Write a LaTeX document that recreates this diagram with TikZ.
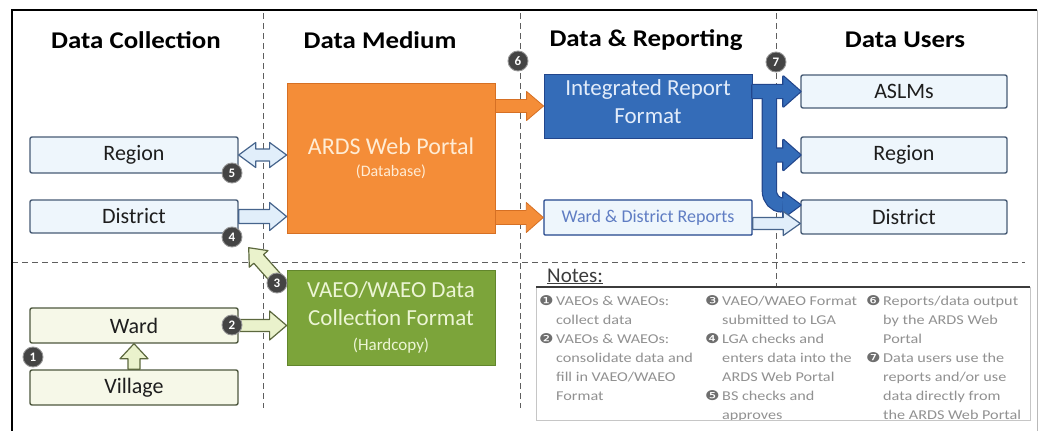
\documentclass[tikz,border=0pt]{standalone}
\usepackage{fontspec}
\setmainfont{Carlito}
\newfontfamily\djv{DejaVu Sans}
\usetikzlibrary{calc}

\definecolor{lbfill}{RGB}{238,246,252}
\definecolor{lbedge}{RGB}{72,92,118}
\definecolor{lgfill}{RGB}{246,248,232}
\definecolor{lgedge}{RGB}{78,88,62}
\definecolor{orangeA}{RGB}{244,141,56}
\definecolor{orangeE}{RGB}{214,112,36}
\definecolor{blueA}{RGB}{52,108,184}
\definecolor{blueE}{RGB}{34,70,140}
\definecolor{greenA}{RGB}{124,164,58}
\definecolor{greenE}{RGB}{98,134,44}
\definecolor{labA}{RGB}{225,238,250}
\definecolor{labE}{RGB}{70,100,140}
\definecolor{lagA}{RGB}{234,242,204}
\definecolor{lagE}{RGB}{92,104,62}
\definecolor{divc}{RGB}{95,95,95}
\definecolor{notetext}{RGB}{145,145,145}
\definecolor{notenum}{RGB}{110,110,110}
\definecolor{notehead}{RGB}{60,60,60}
\definecolor{labeltext}{RGB}{30,30,30}
\definecolor{wdrtext}{RGB}{95,125,195}
\definecolor{ardstext}{RGB}{255,236,212}
\definecolor{vaeotext}{RGB}{236,245,212}
\definecolor{integtext}{RGB}{226,236,250}
\definecolor{numfill}{RGB}{68,68,68}
\definecolor{numedge}{RGB}{150,150,150}

% block arrow: style, from, to, shaft half-width, head half-width, head length
\newcommand\myarrow[6]{%
  \coordinate (mA) at (#2);
  \coordinate (mB) at (#3);
  \coordinate (mC) at ($(mB)!#6!(mA)$);
  \draw[#1] ($(mA)!#4!90:(mB)$) -- ($(mC)!#4!90:(mB)$) -- ($(mC)!#5!90:(mB)$) -- (mB)
    -- ($(mC)!#5!-90:(mB)$) -- ($(mC)!#4!-90:(mB)$) -- ($(mA)!#4!-90:(mB)$) -- cycle;}
% double-headed block arrow
\newcommand\mydarrow[6]{%
  \coordinate (mA) at (#2);
  \coordinate (mB) at (#3);
  \coordinate (mC) at ($(mB)!#6!(mA)$);
  \coordinate (mD) at ($(mA)!#6!(mB)$);
  \draw[#1] (mA) -- ($(mD)!#5!90:(mB)$) -- ($(mD)!#4!90:(mB)$) -- ($(mC)!#4!90:(mB)$)
    -- ($(mC)!#5!90:(mB)$) -- (mB) -- ($(mC)!#5!-90:(mB)$) -- ($(mC)!#4!-90:(mB)$)
    -- ($(mD)!#4!-90:(mB)$) -- ($(mD)!#5!-90:(mB)$) -- cycle;}

\newcommand\hsx[1]{\scalebox{1.12}[1]{#1}}
\newcommand\nb[1]{\makebox[1.05em][l]{{\djv\color{notenum}#1}}}
\newcommand\nbs{\hspace*{1.05em}}

\begin{document}
\begin{tikzpicture}[x=1pt,y=-1pt,
  head/.style={font=\fontsize{24}{28}\selectfont\bfseries, inner sep=0pt},
  lb/.style={draw=lbedge, fill=lbfill, line width=1.4pt, rounded corners=2pt,
    minimum width=208pt, inner sep=0pt, text=labeltext, font=\fontsize{22}{24}\selectfont},
  lg/.style={draw=lgedge, fill=lgfill, line width=1.4pt, rounded corners=2pt,
    minimum width=208pt, minimum height=35pt, inner sep=0pt, text=labeltext, font=\fontsize{22}{24}\selectfont},
  num/.style={circle, fill=numfill, draw=numedge, line width=0.9pt,
    minimum size=20pt, inner sep=0pt, text=white, font=\fontsize{13}{13}\selectfont\bfseries},
  divider/.style={draw=divc, line width=0.9pt, dash pattern=on 6pt off 4pt},
  labarrow/.style={fill=labA, draw=labE, line width=1.2pt, line join=round},
  lagarrow/.style={fill=lagA, draw=lagE, line width=1.2pt, line join=round},
  orarrow/.style={fill=orangeA, draw=orangeE, line width=0.8pt, line join=round},
  notecol/.style={anchor=north west, inner sep=0pt, text=notetext,
    font=\fontsize{13.5}{19}\selectfont}
]
\useasboundingbox (0,0) rectangle (1039,431);
\fill[white] (0,0) rectangle (1039,431);

% dividers
\draw[divider] (263,13) -- (263,408);
\draw[divider] (520,13) -- (520,408);
\draw[divider] (776,13) -- (776,287);
\draw[divider] (12,262) -- (1025,262);

% frame
\draw[line width=2.5pt] (12,431) -- (12,10) -- (1037,10);
\draw[gray!55, line width=0.8pt] (1037,10) -- (1037,431);

% headings
\node[head] (h1) at (136,40) {\hsx{Data Collection}};
\node[head] (h2) at (380,40) {\hsx{Data Medium}};
\node[head] (h3) at (646,40) {\hsx{Data \& Reporting}};
\node[head] (h4) at (905,40) {\hsx{Data Users}};

% data collection boxes
\node[lb, minimum height=36pt] (regL) at (134,155) {Region};
\node[lb, minimum height=33pt] (disL) at (134,216.5) {District};
\node[lg] (ward) at (134,325.5) {Ward};
\node[lg] (village) at (134,387.5) {Village};

% data medium boxes
\node[draw=orangeE, fill=orangeA, line width=0.8pt, minimum width=208pt, minimum height=150pt,
  inner sep=0pt, align=center, text=ardstext, font=\fontsize{24}{22}\selectfont] (ards) at (391,158)
  {ARDS Web Portal\\{\fontsize{16}{18}\selectfont (Database)}};
\node[draw=greenE, fill=greenA, line width=0.8pt, minimum width=208pt, minimum height=95pt,
  inner sep=0pt, align=center, text=vaeotext, font=\fontsize{23}{28}\selectfont] (vaeo) at (391,317.5)
  {VAEO/WAEO Data\\Collection Format\\[-3pt]{\fontsize{17}{22}\selectfont (Hardcopy)}};

% data & reporting boxes
\node[draw=blueE, fill=blueA, line width=0.8pt, minimum width=208pt, minimum height=64pt,
  inner sep=0pt, align=center, text=integtext, text depth=9pt,
  font=\fontsize{23}{28}\selectfont] (integ) at (648,106) {Integrated Report\\Format};
\node[draw=blueE, fill=lbfill, line width=1.4pt, rounded corners=1pt, minimum width=208pt,
  minimum height=35pt, inner sep=0pt, text=wdrtext, font=\fontsize{18}{20}\selectfont]
  (wdr) at (648,217.5) {Ward \& District Reports};

% data users boxes
\node[lb, minimum width=206pt, minimum height=33pt] (aslm) at (904,91.5) {ASLMs};
\node[lb, minimum width=206pt, minimum height=36pt] (regR) at (904,155) {Region};
\node[lb, minimum width=206pt, minimum height=34pt] (disR) at (904,217) {District};

% arrows: collection <-> medium
\mydarrow{labarrow}{regL.east}{ards.west |- regL.east}{6pt}{12.5pt}{17pt}
\myarrow{labarrow}{disL.east}{ards.west |- disL.east}{7pt}{14pt}{17pt}
\myarrow{lagarrow}{ward.east}{vaeo.west |- ward.east}{6pt}{14.5pt}{17pt}
\myarrow{lagarrow}{village.north}{ward.south}{6pt}{14pt}{15pt}
\coordinate (vtail) at ($(vaeo.north west)+(-6,14)$);
\coordinate (vtip) at ($(disL.south east)+(10,14)$);
\myarrow{lagarrow}{vtail}{vtip}{6.5pt}{12.5pt}{15pt}

% medium -> reporting
\myarrow{orarrow}{ards.east |- integ.west}{integ.west}{6.5pt}{14.5pt}{17pt}
\myarrow{orarrow}{ards.east |- wdr.west}{wdr.west}{7pt}{15pt}{17pt}

% reporting -> users (blue branching arrow, union outline)
\coordinate (b1) at (integ.east |- aslm.west);
\coordinate (b2) at ($(b1)+(17,0)$);
\coordinate (bd) at ($(disR.west)+(0,-12)$);
\coordinate (bdh) at ($(bd)+(-18,0)$);
\coordinate (bbot) at ($(b2 |- bd)+(0,-14)$);
\coordinate (breg) at (b2 |- regR.west);
\draw[blueE, line width=15.4pt] (b2) -- (bbot) to[out=-90,in=180] (bdh);
\myarrow{draw=blueE, line width=2.4pt, line join=round}{b1}{aslm.west}{6.5pt}{15pt}{17pt}
\myarrow{draw=blueE, line width=2.4pt, line join=round}{breg}{regR.west}{6.5pt}{15pt}{17pt}
\myarrow{draw=blueE, line width=2.4pt, line join=round}{bdh}{bd}{6.5pt}{12.5pt}{17pt}
\draw[blueA, line width=13pt] (b2) -- (bbot) to[out=-90,in=180] (bdh);
\myarrow{fill=blueA, draw=none}{b1}{aslm.west}{6.5pt}{15pt}{17pt}
\myarrow{fill=blueA, draw=none}{breg}{regR.west}{6.5pt}{15pt}{17pt}
\myarrow{fill=blueA, draw=none}{bdh}{bd}{6.5pt}{12.5pt}{17pt}

\myarrow{labarrow}{$(wdr.east)+(0,6)$}{$(disR.west)+(0,6.5)$}{6pt}{12pt}{17pt}

% numbered markers
\node[num] (n1) at (33,357) {1};
\node[num] (n2) at (232,325) {2};
\node[num] (n3) at (277,283) {3};
\node[num] (n4) at (232,237) {4};
\node[num] (n5) at (232,173) {5};
\node[num] (n6) at (518,61) {6};
\node[num] (n7) at (776,62) {7};

% notes
\draw[gray!45, line width=0.8pt] (536,287) rectangle (1030,420);
\draw[notehead, line width=1.4pt] (536,287) -- (1030,287);
\node[anchor=base west, inner sep=0pt, text=notehead, font=\fontsize{21}{24}\selectfont]
  (notes) at (547,282) {\underline{Notes:}};
\begin{scope}
\clip (536,288) rectangle (1030,419);
\node[notecol] (nc1) at (539,292) {\scalebox{1.2}[1]{\begin{tabular}{@{}l@{}}
\nb{❶}VAEOs \& WAEOs:\\
\nbs collect data\\
\nb{❷}VAEOs \& WAEOs:\\
\nbs consolidate data and\\
\nbs fill in VAEO/WAEO\\
\nbs Format
\end{tabular}}};
\node[notecol] (nc2) at (705,292) {\scalebox{1.2}[1]{\begin{tabular}{@{}l@{}}
\nb{❸}VAEO/WAEO Format\\
\nbs submitted to LGA\\
\nb{❹}LGA checks and\\
\nbs enters data into the\\
\nbs ARDS Web Portal\\
\nb{❺}BS checks and\\
\nbs approves
\end{tabular}}};
\node[notecol] (nc3) at (866,292) {\scalebox{1.2}[1]{\begin{tabular}{@{}l@{}}
\nb{❻}Reports/data output\\
\nbs by the ARDS Web\\
\nbs Portal\\
\nb{❼}Data users use the\\
\nbs reports and/or use\\
\nbs data directly from\\
\nbs the ARDS Web Portal
\end{tabular}}};
\end{scope}
\end{tikzpicture}
\end{document}
